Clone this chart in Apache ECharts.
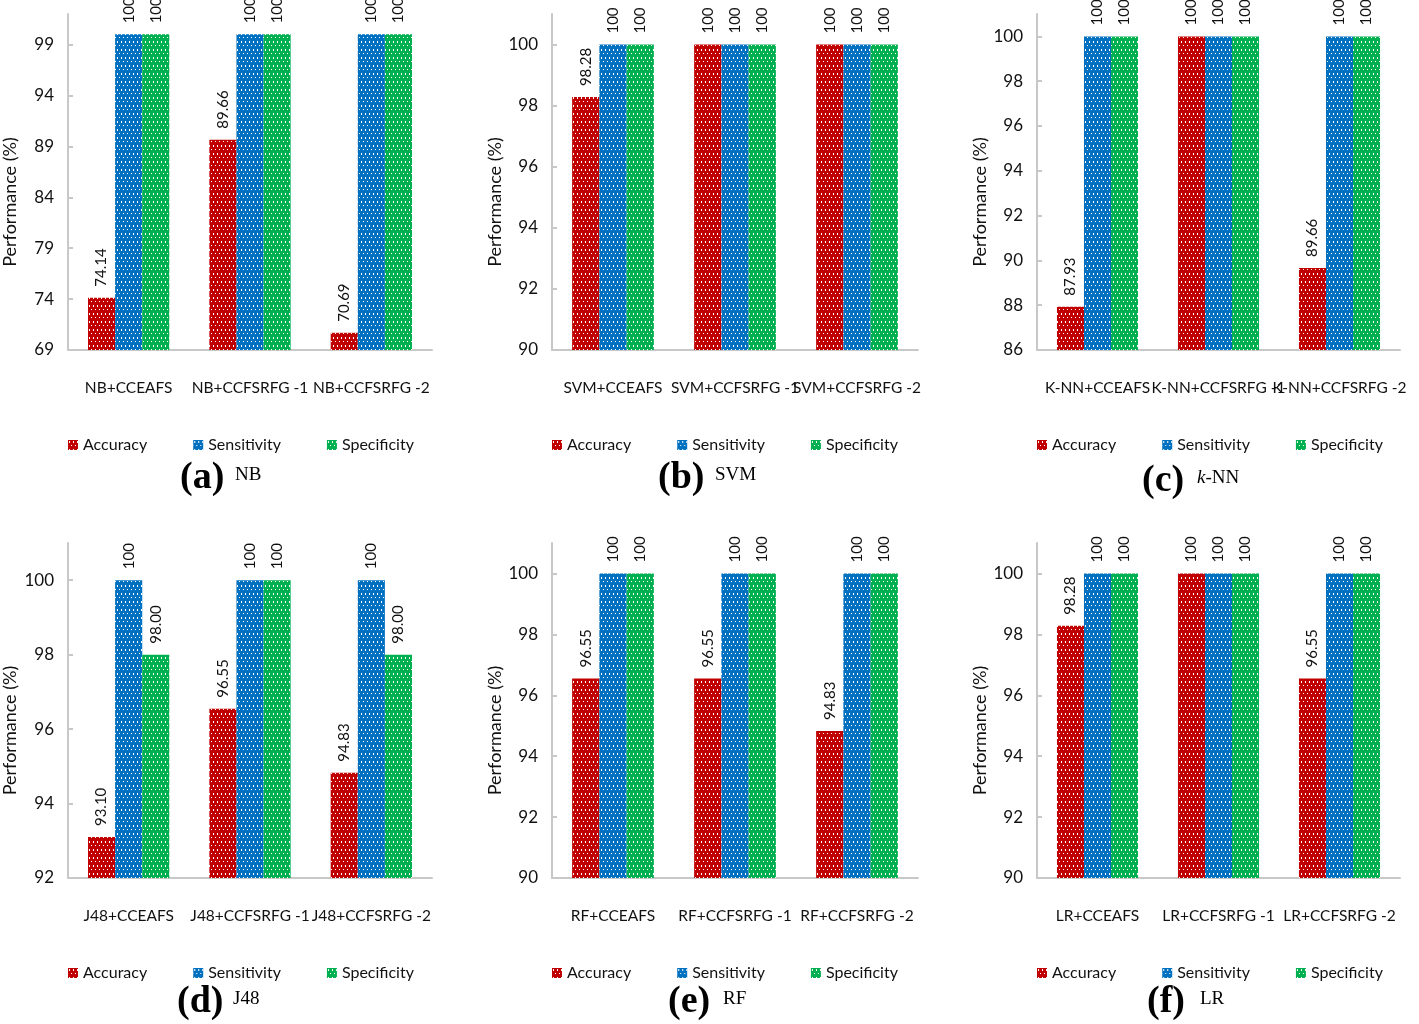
<!DOCTYPE html>
<html>
<head>
<meta charset="utf-8">
<script src="https://cdn.jsdelivr.net/npm/echarts@6/dist/echarts.min.js"></script>
<style>
  html, body { margin: 0; padding: 0; background: #fff; }
  #chart { width: 1419px; height: 1024px; }
</style>
</head>
<body>
<div id="chart"></div>
<script>
var seriesNames = ['Accuracy', 'Sensitivity', 'Specificity'];

var nbCategories = ['NB+CCEAFS', 'NB+CCFSRFG -1', 'NB+CCFSRFG -2'];
var nbAccuracy = [74.14, 89.66, 70.69];
var nbSensitivity = [100, 100, 100];
var nbSpecificity = [100, 100, 100];
var nbTicks = [69, 74, 79, 84, 89, 94, 99];

var svmCategories = ['SVM+CCEAFS', 'SVM+CCFSRFG -1', 'SVM+CCFSRFG -2'];
var svmAccuracy = [98.28, 100, 100];
var svmSensitivity = [100, 100, 100];
var svmSpecificity = [100, 100, 100];
var svmTicks = [90, 92, 94, 96, 98, 100];

var knnCategories = ['K-NN+CCEAFS', 'K-NN+CCFSRFG -1', 'K-NN+CCFSRFG -2'];
var knnAccuracy = [87.93, 100, 89.66];
var knnSensitivity = [100, 100, 100];
var knnSpecificity = [100, 100, 100];
var knnTicks = [86, 88, 90, 92, 94, 96, 98, 100];

var j48Categories = ['J48+CCEAFS', 'J48+CCFSRFG -1', 'J48+CCFSRFG -2'];
var j48Accuracy = [93.10, 96.55, 94.83];
var j48Sensitivity = [100, 100, 100];
var j48Specificity = [98.00, 100, 98.00];
var j48Ticks = [92, 94, 96, 98, 100];

var rfCategories = ['RF+CCEAFS', 'RF+CCFSRFG -1', 'RF+CCFSRFG -2'];
var rfAccuracy = [96.55, 96.55, 94.83];
var rfSensitivity = [100, 100, 100];
var rfSpecificity = [100, 100, 100];
var rfTicks = [90, 92, 94, 96, 98, 100];

var lrCategories = ['LR+CCEAFS', 'LR+CCFSRFG -1', 'LR+CCFSRFG -2'];
var lrAccuracy = [98.28, 100, 96.55];
var lrSensitivity = [100, 100, 100];
var lrSpecificity = [100, 100, 100];
var lrTicks = [90, 92, 94, 96, 98, 100];

var colors = ['#c00000', '#0070c0', '#00b050'];
var axisColor = '#c8c8c8';
var font = 'Lato';

// dotted fill like the excel pattern
function dotted(color) {
  var c = document.createElement('canvas');
  c.width = 4; c.height = 8;
  var ctx = c.getContext('2d');
  ctx.fillStyle = color;
  ctx.fillRect(0, 0, 4, 8);
  ctx.fillStyle = '#ffffff';
  ctx.fillRect(1, 1, 1, 2);
  ctx.fillRect(3, 5, 1, 1);
  return { image: c, repeat: 'repeat' };
}

var panels = [
  { cats: nbCategories, data: [nbAccuracy, nbSensitivity, nbSpecificity], ticks: nbTicks, min: 69, max: 102,
    tag: '(a)', name: 'NB', left: 68, top: 14, width: 364, height: 336, nameX: 10, tagX: 180, methodX: 235, legendTop: 437, capY: 478 },
  { cats: svmCategories, data: [svmAccuracy, svmSensitivity, svmSpecificity], ticks: svmTicks, min: 90, max: 101,
    tag: '(b)', name: 'SVM', left: 552, top: 14, width: 366, height: 336, nameX: 495, tagX: 658, methodX: 715, legendTop: 437, capY: 478 },
  { cats: knnCategories, data: [knnAccuracy, knnSensitivity, knnSpecificity], ticks: knnTicks, min: 86, max: 101,
    tag: '(c)', name: '{i|k}-NN', left: 1037, top: 14, width: 363, height: 336, nameX: 980, tagX: 1142, methodX: 1197, legendTop: 437, capY: 481 },
  { cats: j48Categories, data: [j48Accuracy, j48Sensitivity, j48Specificity], ticks: j48Ticks, min: 92, max: 101,
    tag: '(d)', name: 'J48', left: 68, top: 543, width: 364, height: 335, nameX: 10, tagX: 177, methodX: 233, legendTop: 965, capY: 1002 },
  { cats: rfCategories, data: [rfAccuracy, rfSensitivity, rfSpecificity], ticks: rfTicks, min: 90, max: 101,
    tag: '(e)', name: 'RF', left: 552, top: 543, width: 366, height: 335, nameX: 495, tagX: 668, methodX: 723, legendTop: 965, capY: 1002 },
  { cats: lrCategories, data: [lrAccuracy, lrSensitivity, lrSpecificity], ticks: lrTicks, min: 90, max: 101,
    tag: '(f)', name: 'LR', left: 1037, top: 543, width: 363, height: 335, nameX: 980, tagX: 1147, methodX: 1200, legendTop: 965, capY: 1002 }
];

var grids = [], xAxes = [], yAxes = [], series = [], legends = [], graphics = [];

panels.forEach(function (p, i) {
  grids.push({ left: p.left, top: p.top, width: p.width, height: p.height, containLabel: false });
  xAxes.push({
    type: 'category', gridIndex: i, data: p.cats,
    axisLine: { lineStyle: { color: axisColor, width: 2 } },
    axisTick: { inside: true, length: 6, lineStyle: { color: axisColor, width: 2 } },
    axisLabel: { interval: 0, margin: 30, color: '#111', fontFamily: font, fontSize: 15.5 }
  });
  yAxes.push({
    type: 'value', gridIndex: i, min: p.min, max: p.max,
    splitLine: { show: false },
    axisLine: { show: true, lineStyle: { color: axisColor, width: 2 } },
    axisTick: { show: true, inside: true, length: 5, customValues: p.ticks, lineStyle: { color: axisColor, width: 2 } },
    axisLabel: { customValues: p.ticks, margin: 14, color: '#111', fontFamily: font, fontSize: 17 }
  });
  seriesNames.forEach(function (name, k) {
    series.push({
      name: name, type: 'bar', xAxisIndex: i, yAxisIndex: i,
      data: p.data[k],
      barGap: '0%', barCategoryGap: '33%',
      itemStyle: { color: dotted(colors[k]) },
      label: {
        show: true, position: 'top', rotate: 90, align: 'left', verticalAlign: 'middle',
        distance: 11, color: '#111', fontFamily: font, fontSize: 15,
        formatter: function (d) { return d.value === 100 ? '100' : d.value.toFixed(2); }
      }
    });
  });
  legends.push({
    data: seriesNames, left: p.left, top: p.legendTop, icon: 'rect', padding: 0,
    itemWidth: 10, itemHeight: 10, itemGap: 46,
    textStyle: { color: '#111', fontFamily: font, fontSize: 16 }
  });
  graphics.push({
    type: 'text', x: p.nameX, y: p.top + p.height / 2 + 20, rotation: Math.PI / 2,
    style: { text: 'Performance (%)', fill: '#111', font: '18px ' + font, align: 'center', verticalAlign: 'middle' }
  });
  graphics.push({
    type: 'text', x: p.tagX, y: p.capY,
    style: { text: p.tag, fill: '#000', font: 'bold 38px "Liberation Serif"', verticalAlign: 'middle' }
  });
  graphics.push({
    type: 'text', x: p.methodX, y: p.capY - 3,
    style: {
      text: p.name, fill: '#000', font: '19px "Liberation Serif"', verticalAlign: 'middle',
      rich: { i: { fontStyle: 'italic', fontFamily: 'Liberation Serif', fontSize: 19 } }
    }
  });
});

var chart = echarts.init(document.getElementById('chart'));
chart.setOption({
  animation: false,
  grid: grids,
  xAxis: xAxes,
  yAxis: yAxes,
  legend: legends,
  series: series,
  graphic: graphics
});
</script>
</body>
</html>
